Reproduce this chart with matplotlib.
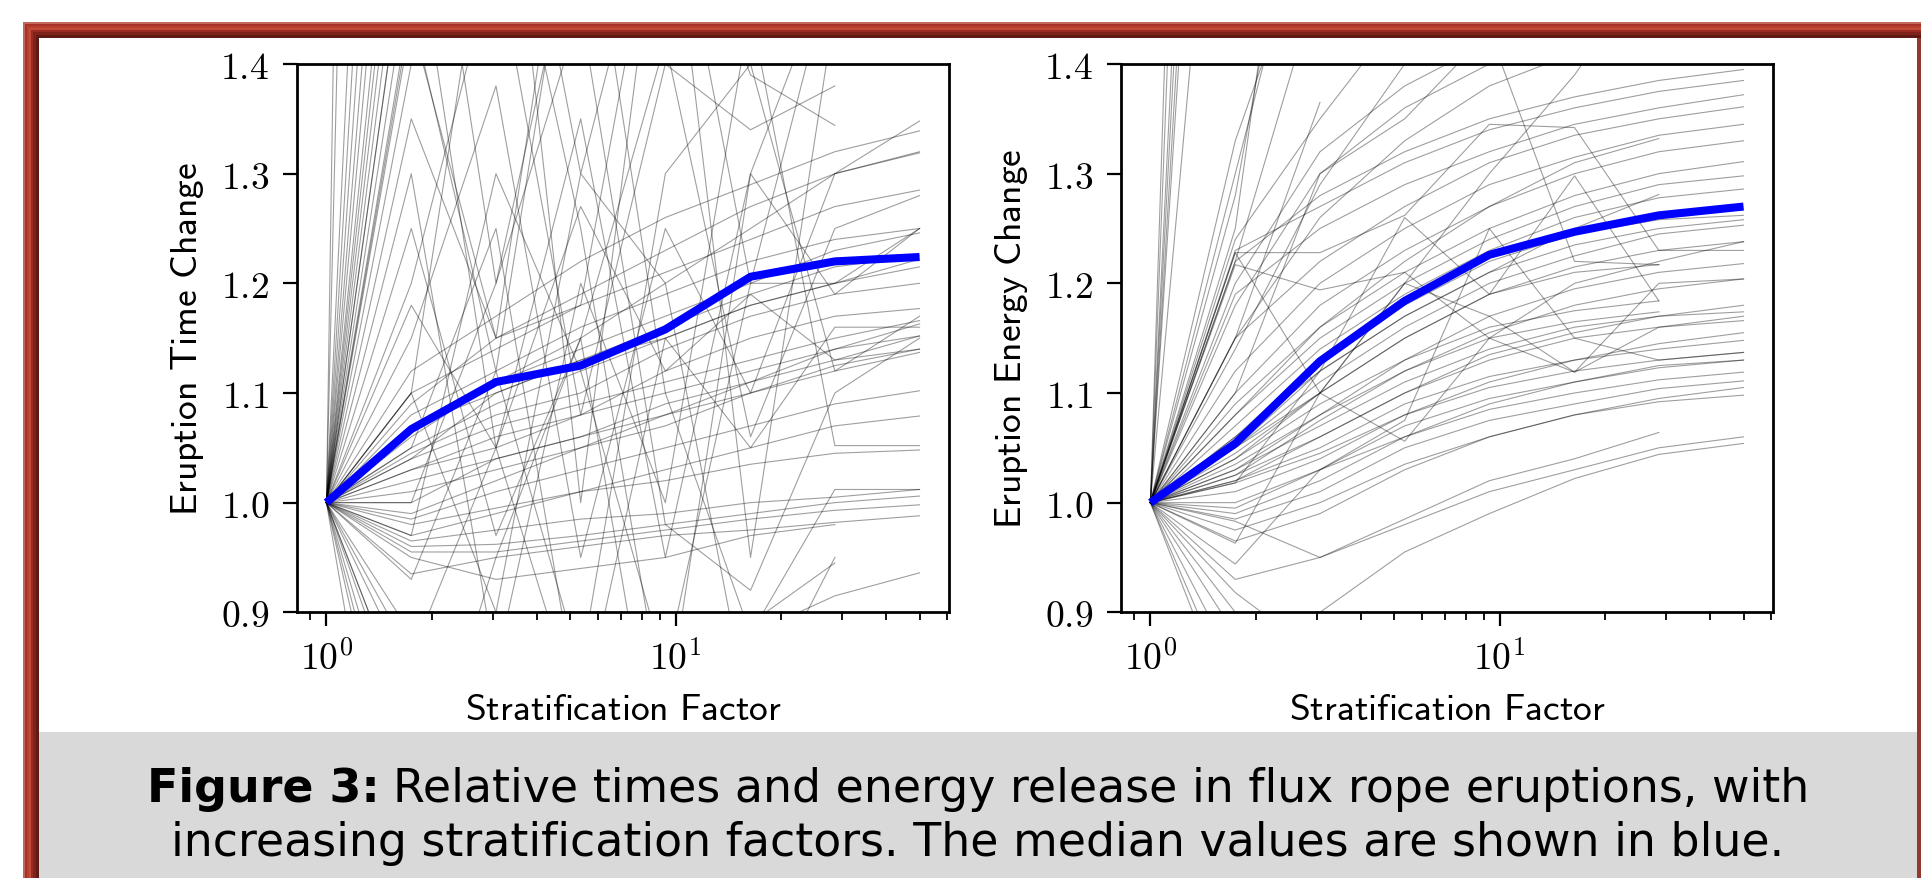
import numpy as np
import matplotlib
matplotlib.use('Agg')
import matplotlib.pyplot as plt
from matplotlib.patches import Rectangle
from matplotlib.ticker import FixedLocator, FixedFormatter, FuncFormatter, LogLocator, NullFormatter

nan = np.nan

# stratification factors used by every run
strat = [1.0, 1.75, 3.06, 5.35, 9.35, 16.4, 28.6, 50.0]

# medians (blue)
time_median = [1.0, 1.067, 1.110, 1.125, 1.158, 1.206, 1.220, 1.224]
energy_median = [1.0, 1.054, 1.129, 1.184, 1.226, 1.247, 1.262, 1.270]

# individual runs, eruption time change
time_runs = [
    # steep rise
    [1.0, 6.00, 6.00, 6.00, 6.00, 6.00, 6.00, 6.00],
    [1.0, 4.20, 4.00, 4.00, 4.00, 4.00, 4.00, 4.00],
    [1.0, 2.60, 2.50, 2.40, 2.40, 2.40, 2.40, 2.40],
    [1.0, 2.30, 2.20, 2.10, 2.00, 2.00, 2.00, 2.00],
    [1.0, 2.10, 1.90, 1.80, 1.80, 1.80, 1.80, 1.80],
    [1.0, 1.95, 1.80, 1.70, 1.70, 1.70, 1.70, 1.70],
    [1.0, 1.85, 1.70, 1.30, 1.60, 1.60, 1.60, 1.60],
    [1.0, 1.75, 1.60, 1.60, 1.60, 1.20, 1.50, 1.50],
    [1.0, 1.70, 1.20, 1.55, 1.55, 1.55, 1.55, 1.55],
    [1.0, 1.65, 1.55, 1.50, 1.50, 1.50, 1.50, 1.50],
    [1.0, 1.60, 1.50, 1.50, 1.50, 1.50, 1.50, 1.50],
    [1.0, 1.55, 1.48, 1.45, 1.45, 1.45, 1.45, 1.45],
    [1.0, 1.50, 1.48, 1.47, 1.46, 1.45, 1.45, 1.45],
    [1.0, 1.46, 1.50, 1.50, 1.50, 1.50, 1.50, 1.50],
    [1.0, 1.44, 1.15, 1.65, 1.70, 1.70, 1.70, 1.70],
    # smooth
    [1.0, 1.04, 1.07, 1.09, 1.11, 1.13, 1.15, 1.166],
    [1.0, 1.05, 1.09, 1.12, 1.15, 1.18, 1.20, 1.215],
    [1.0, 1.08, 1.12, 1.16, 1.19, 1.22, 1.24, 1.250],
    [1.0, 1.09, 1.15, 1.19, 1.23, 1.27, 1.30, 1.319],
    [1.0, 1.06, 1.11, 1.15, 1.20, 1.25, 1.30, 1.348],
    [1.0, 1.03, 1.06, 1.08, 1.10, 1.12, 1.14, 1.163],
    [1.0, 1.02, 1.04, 1.06, 1.08, 1.10, 1.12, 1.137],
    [1.0, 0.97, 0.99, 1.01, 1.03, 1.05, 1.07, 1.079],
    [1.0, 0.965, 0.975, 0.985, 0.99, 1.00, 1.005, 1.012],
    [1.0, 0.96, 0.962, 0.97, 0.98, 0.99, 1.00, 1.006],
    [1.0, 0.955, 0.955, 0.965, 0.975, 0.985, 0.993, 0.998],
    [1.0, 0.935, 0.95, 0.96, 0.97, 0.975, 0.982, 0.988],
    [1.0, 0.985, 1.01, 1.03, 1.05, 1.07, 1.09, 1.102],
    [1.0, 1.01, 1.03, 1.05, 1.08, 1.11, 1.14, 1.152],
    [1.0, 1.03, 1.05, 1.08, 1.12, 1.15, 1.17, 1.177],
    [1.0, 1.10, 1.14, 1.18, 1.21, 1.24, 1.27, 1.285],
    [1.0, 1.12, 1.17, 1.22, 1.26, 1.29, 1.32, 1.339],
    [1.0, 1.07, 1.10, 1.13, 1.15, 1.18, 1.20, 1.222],
    [1.0, 0.98, 0.995, 1.01, 1.02, 1.035, 1.045, 1.048],
    [1.0, 0.95, 0.93, 0.94, 0.95, 0.97, 0.98, nan],
    [1.0, 0.80, 0.82, 0.84, 0.86, 0.89, 0.945, nan],
    [1.0, 0.78, 0.80, 0.83, 0.86, 0.88, 0.915, 0.936],
    [1.0, 1.045, 1.08, 1.10, 1.14, 1.17, 1.19, 1.200],
    [1.0, 1.065, 1.11, 1.14, 1.17, 1.20, 1.23, 1.246],
    [1.0, 1.04, 1.10, 1.13, 1.16, 1.19, 1.215, 1.225],
    [1.0, 0.99, 1.02, 1.05, 1.07, 1.10, 1.125, 1.140],
    [1.0, 1.00, 1.04, 1.06, 1.09, 1.11, 1.13, 1.152],
    # erratic
    [1.0, 1.55, 1.05, 1.35, 0.95, 1.30, 1.19, 1.25],
    [1.0, 1.30, 0.85, 1.20, 1.00, 1.45, 1.052, 1.052],
    [1.0, 1.15, 1.38, 0.95, 1.25, 1.10, 1.30, 1.32],
    [1.0, 1.00, 1.20, 1.45, 0.98, 0.92, 1.10, 1.15],
    [1.0, 1.25, 0.97, 1.15, 1.42, 1.06, 1.25, 1.28],
    [1.0, 0.93, 1.12, 0.85, 1.30, 1.40, 1.12, 1.17],
    [1.0, 1.45, 1.12, 1.60, 1.10, 0.88, 1.012, 1.012],
    [1.0, 1.20, 1.50, 1.08, 1.40, 1.34, 1.38, nan],
    [1.0, 1.05, 1.25, 0.80, 1.15, 1.05, 1.16, 1.16],
    [1.0, 1.10, 0.90, 1.30, 1.20, 0.80, 0.95, nan],
    [1.0, 1.35, 1.15, 1.18, 1.60, 1.39, 1.344, nan],
    [1.0, 1.18, 1.05, 1.27, 1.12, 1.19, 1.13, 1.14],
    [1.0, 0.97, 1.30, 1.12, 0.85, 1.20, 1.20, 1.25],
    [1.0, 1.40, 1.70, 1.00, 1.60, 0.95, 1.45, 1.45],
    [1.0, 1.10, 1.60, 1.25, 0.80, 1.30, 1.50, 1.50],
    # steep drop
    [1.0, 0.55, 0.50, 0.50, 0.50, 0.50, 0.50, 0.50],
    [1.0, 0.66, 0.60, 0.60, 0.60, 0.60, 0.60, 0.60],
    [1.0, 0.74, 0.70, 0.70, 0.70, 0.70, 0.70, 0.70],
    [1.0, 0.80, 0.75, 0.75, 0.75, 0.75, 0.75, 0.75],
    [1.0, 0.84, 0.80, 0.80, 0.80, 0.80, 0.80, 0.80],
    [1.0, 0.88, 0.85, 0.85, 0.85, 0.85, 0.85, 0.85],
    [1.0, 0.86, 1.05, 0.80, 0.80, 0.80, 0.80, 0.80],
    [1.0, 0.70, 0.95, 1.15, 0.70, 0.70, 0.70, 0.70],
]

# individual runs, eruption energy change
energy_runs = [
    # steep rise
    [1.0, 3.40, 3.00, 3.00, 3.00, 3.00, 3.00, 3.00],
    [1.0, 3.00, 3.00, 3.00, 3.00, 3.00, 3.00, 3.00],
    [1.0, 2.60, 2.60, 2.60, 2.60, 2.60, 2.60, 2.60],
    [1.0, 2.45, 2.40, 2.40, 2.40, 2.40, 2.40, 2.40],
    [1.0, 2.30, 2.30, 2.30, 2.30, 2.30, 2.30, 2.30],
    [1.0, 2.20, 2.20, 2.20, 2.20, 2.20, 2.20, 2.20],
    [1.0, 1.85, 1.90, 1.90, 1.90, 1.90, 1.90, 1.90],
    [1.0, 1.30, 1.60, 1.60, 1.60, 1.60, 1.60, 1.60],
    [1.0, 1.28, 1.70, 1.70, 1.70, 1.70, 1.70, 1.70],
    [1.0, 1.25, 1.80, 1.80, 1.80, 1.80, 1.80, 1.80],
    [1.0, 1.33, 1.55, 1.55, 1.55, 1.55, 1.55, 1.55],
    [1.0, 1.22, 1.48, 1.50, 1.50, 1.50, 1.50, 1.50],
    [1.0, 1.15, 1.365, nan, nan, nan, nan, nan],
    [1.0, 1.20, 1.32, 1.38, 1.42, 1.44, 1.45, 1.45],
    [1.0, 1.18, 1.30, 1.36, 1.40, 1.42, 1.43, 1.44],
    [1.0, 1.15, 1.26, 1.33, 1.38, 1.41, 1.43, 1.44],
    [1.0, 1.24, 1.35, 1.45, 1.50, 1.50, 1.50, 1.50],
    [1.0, 1.14, 1.29, 1.40, 1.46, 1.50, 1.50, 1.50],
    # smooth
    [1.0, 1.22, 1.28, 1.32, 1.35, 1.37, 1.385, 1.395],
    [1.0, 1.23, 1.27, 1.31, 1.34, 1.36, 1.375, 1.385],
    [1.0, 1.15, 1.22, 1.27, 1.31, 1.335, 1.35, 1.361],
    [1.0, 1.12, 1.20, 1.25, 1.29, 1.315, 1.335, 1.345],
    [1.0, 1.10, 1.18, 1.23, 1.27, 1.30, 1.32, 1.330],
    [1.0, 1.09, 1.16, 1.21, 1.25, 1.28, 1.30, 1.311],
    [1.0, 1.08, 1.15, 1.20, 1.24, 1.27, 1.29, 1.298],
    [1.0, 1.07, 1.14, 1.19, 1.23, 1.26, 1.278, 1.286],
    [1.0, 1.06, 1.13, 1.18, 1.22, 1.245, 1.258, 1.262],
    [1.0, 1.05, 1.12, 1.17, 1.21, 1.235, 1.25, 1.258],
    [1.0, 1.045, 1.10, 1.15, 1.19, 1.215, 1.23, 1.238],
    [1.0, 1.04, 1.09, 1.13, 1.17, 1.195, 1.21, 1.218],
    [1.0, 1.035, 1.08, 1.12, 1.155, 1.18, 1.195, 1.204],
    [1.0, 1.03, 1.07, 1.11, 1.14, 1.16, 1.17, 1.174],
    [1.0, 1.025, 1.06, 1.10, 1.13, 1.15, 1.16, 1.166],
    [1.0, 1.02, 1.05, 1.09, 1.115, 1.13, 1.14, 1.148],
    [1.0, 1.018, 1.045, 1.08, 1.105, 1.12, 1.13, 1.137],
    [1.0, 0.995, 1.03, 1.07, 1.095, 1.11, 1.123, 1.130],
    [1.0, 0.99, 1.02, 1.06, 1.085, 1.10, 1.112, 1.119],
    [1.0, 0.985, 1.01, 1.05, 1.075, 1.09, 1.104, 1.111],
    [1.0, 0.965, 0.99, 1.03, 1.06, 1.08, 1.092, 1.098],
    [1.0, 0.82, 0.90, 0.955, 0.99, 1.022, 1.044, 1.054],
    [1.0, 0.93, 0.95, 0.985, 1.02, 1.04, 1.064, nan],
    [1.0, 1.06, 1.12, 1.17, 1.21, 1.25, 1.281, nan],
    [1.0, 1.08, 1.16, 1.22, 1.27, 1.31, 1.332, nan],
    [1.0, 1.04, 1.10, 1.15, 1.19, 1.21, 1.217, nan],
    [1.0, 1.03, 1.08, 1.13, 1.16, 1.175, 1.184, nan],
    [1.0, 1.025, 1.075, 1.12, 1.15, 1.165, 1.174, nan],
    [1.0, 1.05, 1.11, 1.16, 1.20, 1.225, 1.245, 1.253],
    [1.0, 1.02, 1.06, 1.10, 1.135, 1.155, 1.17, 1.180],
    [1.0, 1.01, 1.04, 1.08, 1.11, 1.13, 1.145, 1.155],
    [1.0, 1.00, 1.03, 1.06, 1.09, 1.11, 1.125, 1.130],
    [1.0, 0.975, 1.00, 1.035, 1.06, 1.08, 1.095, 1.105],
    [1.0, 1.19, 1.25, 1.29, 1.32, 1.345, 1.36, 1.372],
    # erratic
    [1.0, 1.228, 1.228, 1.262, 1.345, 1.342, 1.23, 1.23],
    [1.0, 1.217, 1.194, 1.21, 1.15, 1.119, 1.20, 1.204],
    [1.0, 1.018, 1.12, 1.26, 1.19, 1.298, 1.184, nan],
    [1.0, 0.963, 1.10, 1.20, 1.30, 1.39, 1.50, 1.50],
    [1.0, 1.228, 1.10, 1.056, 1.15, 1.20, 1.22, 1.238],
    [1.0, 0.944, 1.03, 1.075, 1.25, 1.15, 1.13, 1.137],
    [1.0, 1.10, 1.30, 1.35, 1.43, 1.22, 1.217, nan],
    [1.0, 1.05, 1.10, 1.20, 1.17, 1.119, 1.16, 1.170],
    # steep drop
    [1.0, 0.80, 0.75, 0.75, 0.75, 0.75, 0.75, 0.75],
    [1.0, 0.85, 0.80, 0.80, 0.80, 0.80, 0.80, 0.80],
    [1.0, 0.88, 0.83, 0.83, 0.83, 0.83, 0.83, 0.83],
    [1.0, 0.90, 0.85, 0.85, 0.85, 0.85, 0.85, 0.85],
    [1.0, 0.918, 0.86, 0.86, 0.86, 0.86, 0.86, 0.86],
    [1.0, 0.983, 0.95, 0.98, 1.01, 1.03, 1.05, 1.060],
]

panels = [
    (time_runs, time_median, 'Eruption\\ Time\\ Change'),
    (energy_runs, energy_median, 'Eruption\\ Energy\\ Change'),
]

caption_bold = 'Figure 3:'
caption_rest = 'Relative times and energy release in flux rope eruptions, with'
caption_line2 = 'increasing stratification factors. The median values are shown in blue.'

plt.rcParams['mathtext.fontset'] = 'cm'

W, H = 1921, 879
fig = plt.figure(figsize=(W / 100, H / 100), dpi=100)
fig.patch.set_facecolor('white')


def box(x0, y0, x1, y1, color, z=0):
    fig.add_artist(Rectangle((x0 / W, 1 - y1 / H), (x1 - x0) / W, (y1 - y0) / H,
                             transform=fig.transFigure, facecolor=color,
                             edgecolor='none', zorder=z))


# red frame (top and left bands), thin line on the right
frame_cols = ['#c0685c', '#a8322a', '#b8402f', '#c24a38', '#9a2b22', '#7e221a', '#5f1a13']
steps = [23, 25, 27, 29, 31, 33, 36, 39]
for i, c in enumerate(frame_cols):
    box(steps[i], steps[i], W, steps[i + 1], c)
    box(steps[i], steps[i], steps[i + 1], H, c)
box(1917, 39, 1921, H, '#8e3a30')

# caption box
box(39, 733, 1917, H, '#d9d9d9')

axes_left = [296.7, 1120.7]
for (runs, med, ylab), xl in zip(panels, axes_left):
    ax = fig.add_axes([xl / W, 1 - 613.3 / H, 652.5 / W, (613.3 - 65) / H])
    for r in runs:
        ax.plot(strat, r, color='k', lw=0.8, alpha=0.38)
    ax.plot(strat, med, color='blue', lw=5.8, solid_capstyle='butt', zorder=5)
    ax.set_xscale('log')
    ax.set_xlim(0.822, 60.8)
    ax.set_ylim(0.9, 1.4)
    ax.xaxis.set_major_locator(FixedLocator([1, 10]))
    ax.xaxis.set_major_formatter(FixedFormatter([r'$10^{0}$', r'$10^{1}$']))
    ax.xaxis.set_minor_locator(LogLocator(base=10, subs=np.arange(2, 10)))
    ax.xaxis.set_minor_formatter(NullFormatter())
    ax.set_yticks([0.9, 1.0, 1.1, 1.2, 1.3, 1.4])
    ax.yaxis.set_major_formatter(FuncFormatter(lambda v, p: r'$%.1f$' % v))
    ax.tick_params(which='major', length=10, width=1.6, labelsize=27, pad=10, direction='out')
    ax.tick_params(which='minor', length=5.5, width=1.3, direction='out')
    for s in ax.spines.values():
        s.set_linewidth(2.0)
    ax.set_xlabel(r'$\mathsf{Stratification\ Factor}$', fontsize=27, labelpad=10)
    ax.set_ylabel(r'$\mathsf{' + ylab + '}$', fontsize=27, labelpad=10)

# caption, two centred lines with a bold lead-in
fam = 'DejaVu Sans'
cap_size = 33
fig.canvas.draw()
rend = fig.canvas.get_renderer()

y1 = 1 - 802 / H
y2 = 1 - 856 / H
xc = 978
tb = fig.text(0, y1, caption_bold, fontsize=cap_size, fontweight='bold', family=fam, va='baseline')
tr = fig.text(0, y1, caption_rest, fontsize=cap_size, family=fam, va='baseline')
wb = tb.get_window_extent(rend).width
wr = tr.get_window_extent(rend).width
gap = cap_size * 1.389 * 0.3
x0 = xc - (wb + gap + wr) / 2
tb.set_x(x0 / W)
tr.set_x((x0 + wb + gap) / W)
fig.text(xc / W, y2, caption_line2, fontsize=cap_size, family=fam, va='baseline', ha='center')

fig.savefig('out.png', dpi=100)
